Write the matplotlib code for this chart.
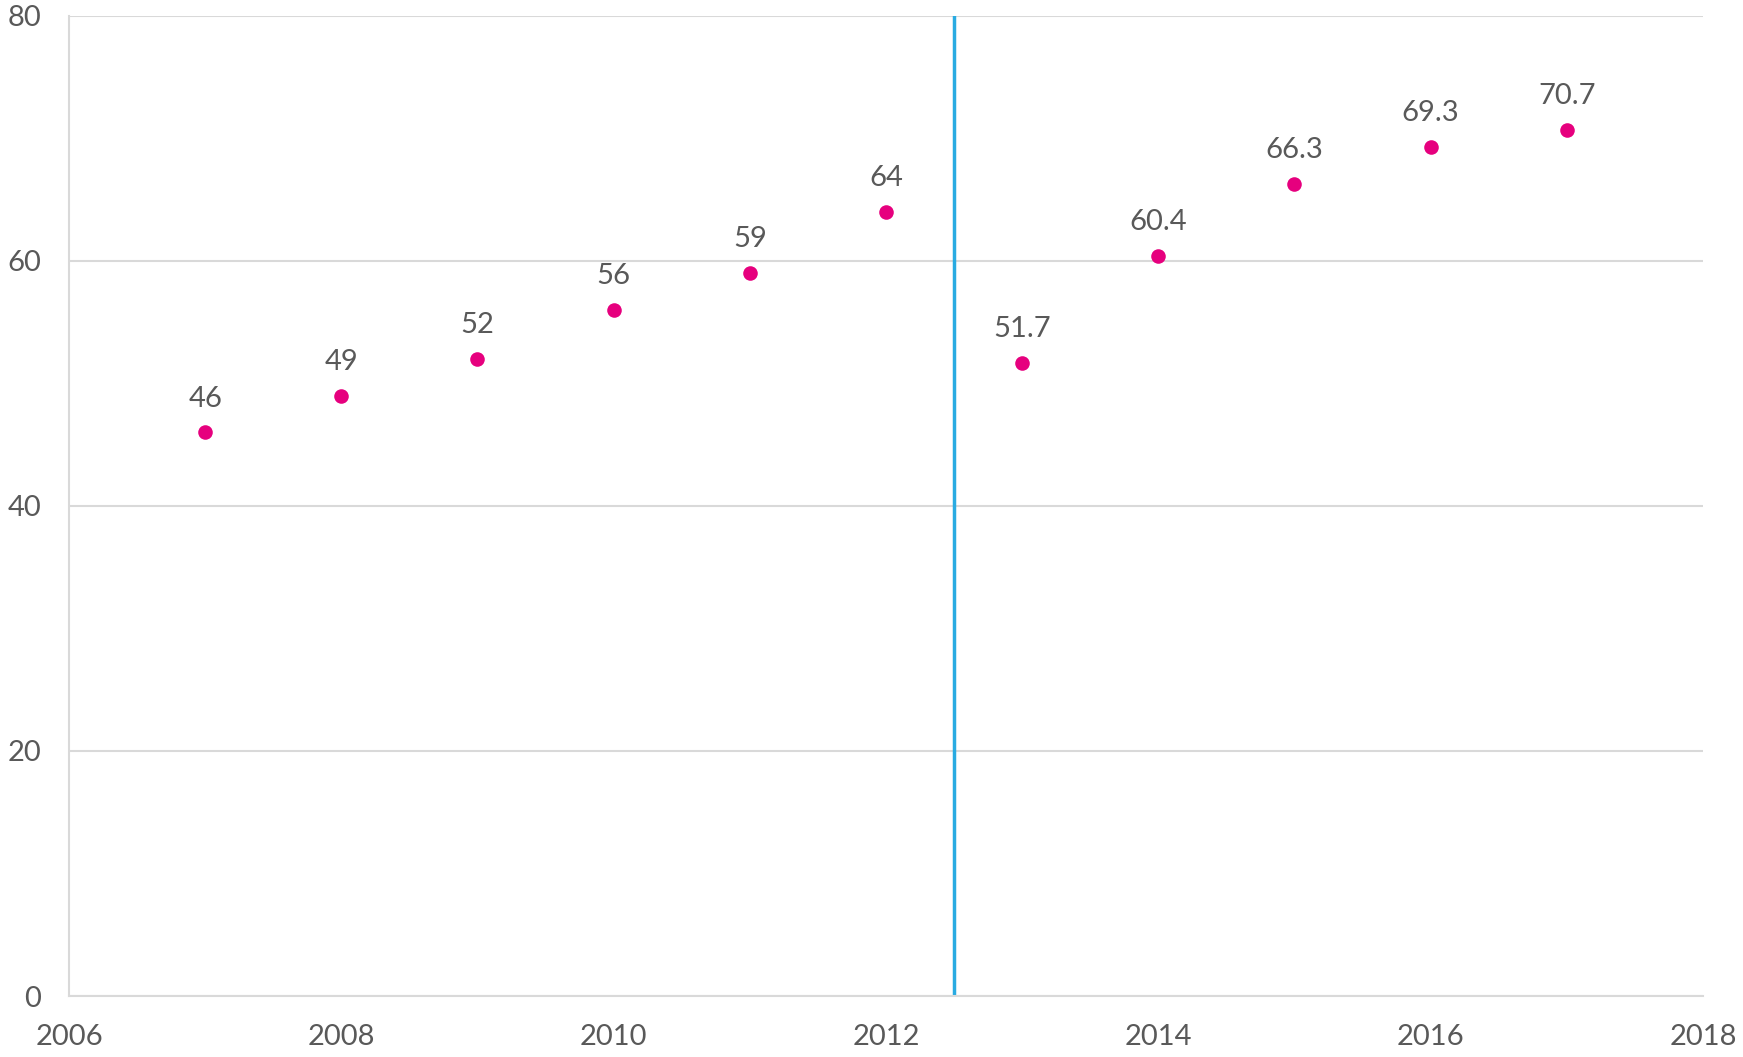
import matplotlib.pyplot as plt

years = [2007, 2008, 2009, 2010, 2011, 2012, 2013, 2014, 2015, 2016, 2017]
values = [46, 49, 52, 56, 59, 64, 51.7, 60.4, 66.3, 69.3, 70.7]
labels = ['46', '49', '52', '56', '59', '64', '51.7', '60.4', '66.3', '69.3', '70.7']
break_year = 2012.5

plt.rcParams['font.family'] = ['Lato', 'DejaVu Sans']

fig = plt.figure(figsize=(17.43, 10.57), dpi=100)
ax = fig.add_axes([0.0396, 0.0577, 0.9374, 0.9272])

ax.scatter(years, values, s=110, color='#E6007E', zorder=3, linewidths=0)
for x, y, t in zip(years, values, labels):
    ax.annotate(t, (x, y), xytext=(0, 15), textcoords='offset points',
                ha='center', va='bottom', fontsize=21, color='#595959')

ax.axvline(break_year, color='#29ABE2', lw=2.5, zorder=2)

ax.set_xlim(2006, 2018)
ax.set_ylim(0, 80)
ax.set_xticks(range(2006, 2019, 2))
ax.set_yticks(range(0, 81, 20))
ax.grid(axis='y', color='#D9D9D9', lw=1.5)
ax.set_axisbelow(True)

for s in ['top', 'right']:
    ax.spines[s].set_visible(False)
for s in ['left', 'bottom']:
    ax.spines[s].set_color('#D9D9D9')
    ax.spines[s].set_linewidth(1.5)

ax.tick_params(length=0, labelsize=21, labelcolor='#595959')
ax.tick_params(axis='y', pad=20)
ax.tick_params(axis='x', pad=20)

fig.savefig('out.png', dpi=100)
